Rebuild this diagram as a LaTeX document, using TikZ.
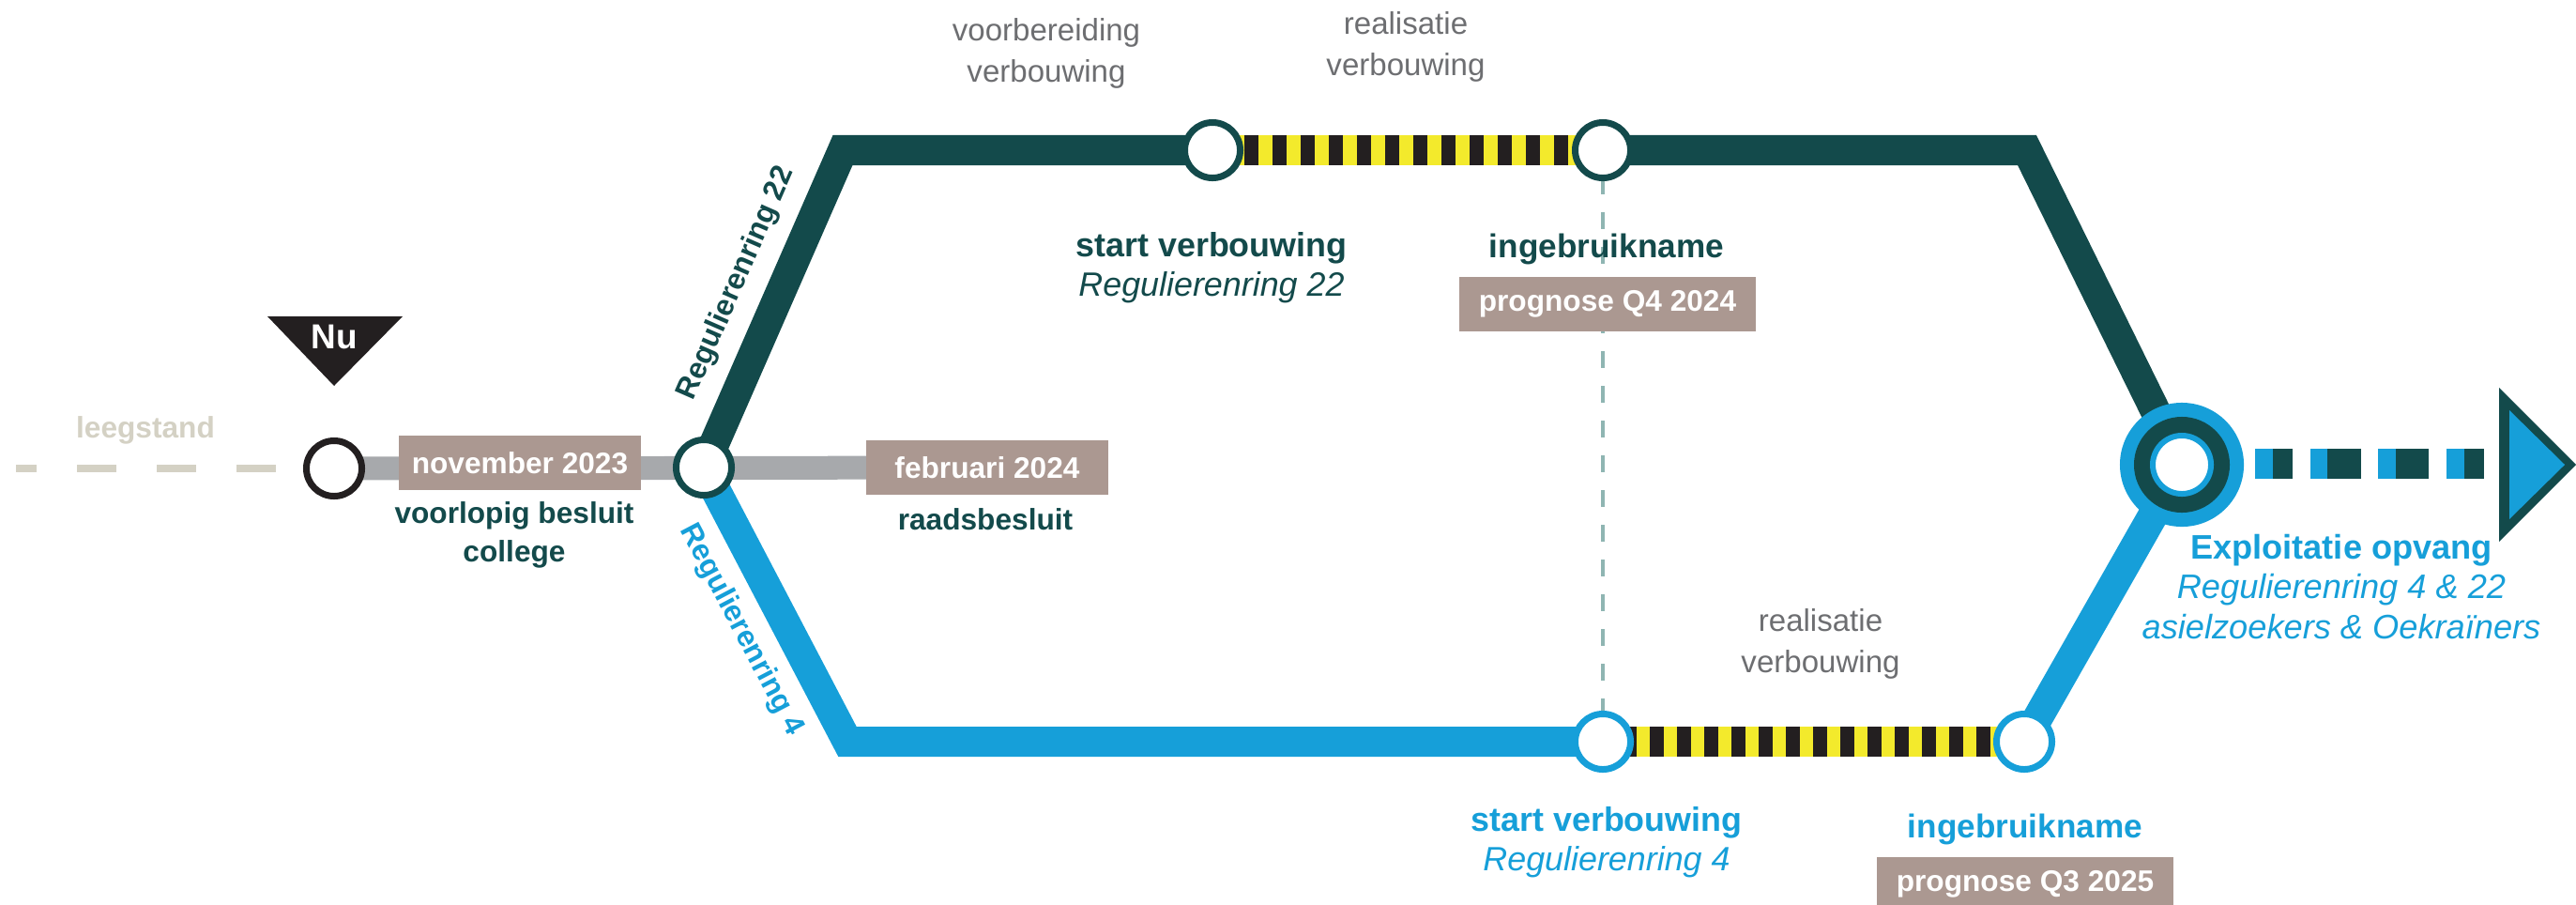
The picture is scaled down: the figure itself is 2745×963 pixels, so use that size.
\documentclass[tikz,border=0pt]{standalone}
\usepackage{fontspec}
\setmainfont{Liberation Sans}
\usetikzlibrary{backgrounds}

\definecolor{ringteal}{HTML}{134A4B}
\definecolor{ringblue}{HTML}{169FD9}
\definecolor{trackgrey}{HTML}{A7A9AC}
\definecolor{datetaupe}{HTML}{AB9891}
\definecolor{emptybeige}{HTML}{D4D1C4}
\definecolor{workyellow}{HTML}{F3EA2C}
\definecolor{nublack}{HTML}{231F20}
\definecolor{phasegrey}{HTML}{6D6E71}
\definecolor{guideteal}{HTML}{8FB5B2}

\begin{document}
\begin{tikzpicture}[x=0.01cm, y=-0.01cm,
      halte/.style={circle, draw=#1, fill=white, line width=0.07cm, minimum size=0.59cm, inner sep=0pt},
      datum/.style={fill=datetaupe, text=white, font=\fontsize{9pt}{12pt}\selectfont\bfseries,
        minimum height=0.58cm, minimum width=#1, inner sep=0pt},
      besluit/.style={align=center, text=#1, font=\fontsize{9pt}{11.5pt}\selectfont\bfseries},
      mijlpaal/.style={align=center, text=#1, font=\fontsize{10.2pt}{12pt}\selectfont},
      fase/.style={align=center, text=phasegrey, font=\fontsize{9.4pt}{12.5pt}\selectfont},
      spoor/.style={line width=0.32cm}
      ]
      \useasboundingbox (0,0) rectangle (2745,963);

      % stations
      \node[halte=nublack] (start) at (356,499) {};
      \node[halte=ringteal] (j1) at (750,498) {};
      \node[halte=ringteal] (s22) at (1292,160) {};
      \node[halte=ringteal] (i22) at (1708,160) {};
      \node[halte=ringblue] (s4) at (1708,790) {};
      \node[halte=ringblue] (i4) at (2157,790) {};
      \node[circle, fill=white, draw=ringblue, line width=0.06cm, minimum size=0.62cm, inner sep=0pt] (hub) at (2325,495) {};
      \coordinate (c1) at (898,160);
      \coordinate (c2) at (2160,160);
      \coordinate (c3) at (903,790);
      \coordinate (leeg) at (17,499);

      % labels
      \fill[nublack] (285,337) -- (429,337) -- (356,411) -- cycle;
      \node[text=white, font=\fontsize{10.5pt}{12pt}\selectfont\bfseries] (nu) at (356,359) {Nu};
      \node[besluit=emptybeige] (leegstand) at (155,458) {leegstand};
      \node[datum=2.58cm] (nov) at (554,493) {november 2023};
      \node[besluit=ringteal] (college) at (548,570) {voorlopig besluit\\college};
      \node[datum=2.58cm] (feb) at (1052,498) {februari 2024};
      \node[besluit=ringteal] (raad) at (1050,553) {raadsbesluit};
      \node[besluit=ringteal, rotate=66.4] (r22) at (785,302) {Regulierenring 22};
      \node[besluit=ringblue, rotate=-62.3] (r4) at (790,671) {Regulierenring 4};

      \node[fase] (voorb22) at (1115,57) {voorbereiding\\verbouwing};
      \node[fase] (real22) at (1498,50) {realisatie\\verbouwing};
      \node[mijlpaal=ringteal] (sv22) at (1291,285) {\textbf{start verbouwing}\\\textit{Regulierenring 22}};
      \node[mijlpaal=ringteal, font=\fontsize{10pt}{12pt}\selectfont\bfseries] (ig22) at (1712,265) {ingebruikname};
      \node[datum=3.16cm] (q4) at (1713,324) {prognose Q4 2024};

      \node[fase] (real4) at (1940,686) {realisatie\\verbouwing};
      \node[mijlpaal=ringblue] (sv4) at (1712,897) {\textbf{start verbouwing}\\\textit{Regulierenring 4}};
      \node[mijlpaal=ringblue, font=\fontsize{10pt}{12pt}\selectfont\bfseries] (ig4) at (2158,883) {ingebruikname};
      \node[datum=3.16cm] (q3) at (2158,942) {prognose Q3 2025};

      \node[mijlpaal=ringblue, font=\fontsize{10.3pt}{12.1pt}\selectfont] (opvang) at (2495,625)
        {\textbf{Exploitatie opvang}\\\textit{Regulierenring 4 \& 22}\\\textit{asielzoekers \& Oekraïners}};

      % arrow towards the future
      \foreach \a/\b/\c in {2403/2422/2443, 2462/2480/2516, 2534/2553/2588, 2607/2626/2647} {
        \fill[ringblue] (\a,478) rectangle (\b,510);
        \fill[ringteal] (\b,478) rectangle (\c,510);
      }
      \fill[ringteal] (2663,413) -- (2745,495) -- (2663,577) -- cycle;
      \fill[ringblue] (2674,437) -- (2733,495) -- (2674,553) -- cycle;

      \begin{pgfonlayer}{background}
        \draw[emptybeige, line width=0.08cm, dash pattern=on 0.42cm off 0.43cm, dash phase=0.2cm] (leeg) -- (start);
        \draw[trackgrey, line width=0.25cm] (start.center) -- (feb.center);
        \draw[ringteal, spoor] (j1.center) -- (c1) -- (s22.center);
        \draw[ringteal, spoor] (i22.center) -- (c2) -- (hub.center);
        \draw[workyellow, spoor] (s22.center) -- (i22.center);
        \draw[nublack, spoor, dash pattern=on 0.15cm off 0.15cm, dash phase=0.264cm] (s22.center) -- (i22.center);
        \draw[ringblue, spoor] (j1.center) -- (c3) -- (s4.center);
        \draw[ringblue, spoor] (i4.center) -- (hub.center);
        \draw[workyellow, spoor] (s4.center) -- (i4.center);
        \draw[nublack, spoor, dash pattern=on 0.147cm off 0.143cm, dash phase=0.078cm] (s4.center) -- (i4.center);
        \draw[guideteal, line width=0.04cm, dash pattern=on 0.18cm off 0.19cm, dash phase=0.08cm] (i22.center) -- (s4.center);
        \fill[ringblue] (hub.center) circle (0.66cm);
        \fill[ringteal] (hub.center) circle (0.51cm);
      \end{pgfonlayer}
    \end{tikzpicture}
\end{document}
